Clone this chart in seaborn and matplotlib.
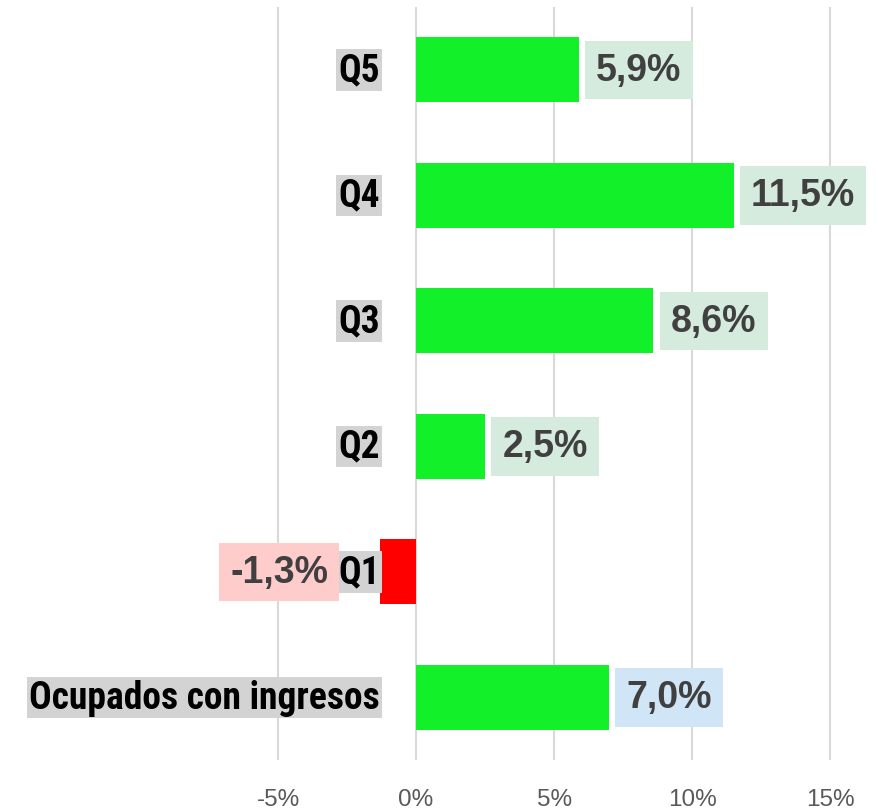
import matplotlib
matplotlib.use("Agg")
import matplotlib.pyplot as plt
import seaborn as sns
import pandas as pd
from matplotlib import font_manager

categories = ["Q5", "Q4", "Q3", "Q2", "Q1", "Ocupados con ingresos"]
values = [5.9, 11.5, 8.6, 2.5, -1.3, 7.0]
kinds = ["pos", "pos", "pos", "pos", "neg", "total"]
tick_values = [-5, 0, 5, 10, 15]
tick_labels = ["-5%", "0%", "5%", "10%", "15%"]

sns.set_theme(style="white")
plt.rcParams["font.family"] = ["Liberation Sans", "DejaVu Sans"]

df = pd.DataFrame({"cat": categories, "val": values, "kind": kinds})

bar_colors = {"pos": "#12F02A", "neg": "#FF0000", "total": "#12F02A"}
box_colors = {"pos": "#D5EBDD", "neg": "#FFCCCC", "total": "#D0E5F5"}

# pick a narrow bold family for the category labels if available
available = {f.name for f in font_manager.fontManager.ttflist}
narrow = None
for cand in ["Liberation Sans Narrow", "Roboto Condensed", "Open Sans Condensed",
             "Noto Sans Condensed", "DejaVu Sans Condensed"]:
    if cand in available:
        narrow = cand
        break
cond_stretch = "normal"
if narrow is None:
    narrow = "DejaVu Sans"
    cond_stretch = "condensed"

fig = plt.figure(figsize=(8.79, 8.12), dpi=100)
ax = fig.add_axes([0, 0.0628, 1, 0.9273])

sns.barplot(data=df, y="cat", x="val", hue="kind", palette=bar_colors,
            orient="h", width=0.52, linewidth=0, legend=False, dodge=False,
            saturation=1, order=categories, ax=ax)

ax.set_xlim(-15.07, 16.77)
ax.set_ylim(len(categories) - 0.5, -0.5)
ax.set_xticks(tick_values)
ax.set_xticklabels(tick_labels, color="#595959", fontsize=17.5,
                   family=["Liberation Sans", "DejaVu Sans"])
ax.tick_params(axis="x", length=0, pad=20)
ax.set_yticks([])
ax.set_xlabel("")
ax.set_ylabel("")
for s in ax.spines.values():
    s.set_visible(False)
ax.grid(axis="x", color="#D9D9D9", linewidth=1.5)
ax.grid(axis="y", visible=False)
ax.set_axisbelow(True)

fig.canvas.draw()
renderer = fig.canvas.get_renderer()
max_w_px = 352.0

for i, (c, v, k) in enumerate(zip(categories, values, kinds)):
    t = ax.annotate(c, xy=(0, i), xytext=(-26, 0), textcoords="offset points",
                    ha="right", va="center", fontsize=27, fontweight="bold",
                    color="black", family=[narrow, "DejaVu Sans"],
                    fontstretch=cond_stretch,
                    bbox=dict(boxstyle="square,pad=0.06", fc="#D3D3D3", ec="none"))
    w = t.get_window_extent(renderer).width
    if w > max_w_px:
        t.set_fontsize(27 * max_w_px / w)
    label = f"{v:.1f}".replace(".", ",") + "%"
    if v >= 0:
        off, ha = 12.5, "left"
    else:
        off, ha = -37.5, "right"
    ax.annotate(label, xy=(v, i), xytext=(off, 0), textcoords="offset points",
                ha=ha, va="center", fontsize=27, fontweight="bold",
                color="#404040",
                bbox=dict(boxstyle="square,pad=0.3", fc=box_colors[k], ec="none"))

fig.savefig("out.png", dpi=100)
